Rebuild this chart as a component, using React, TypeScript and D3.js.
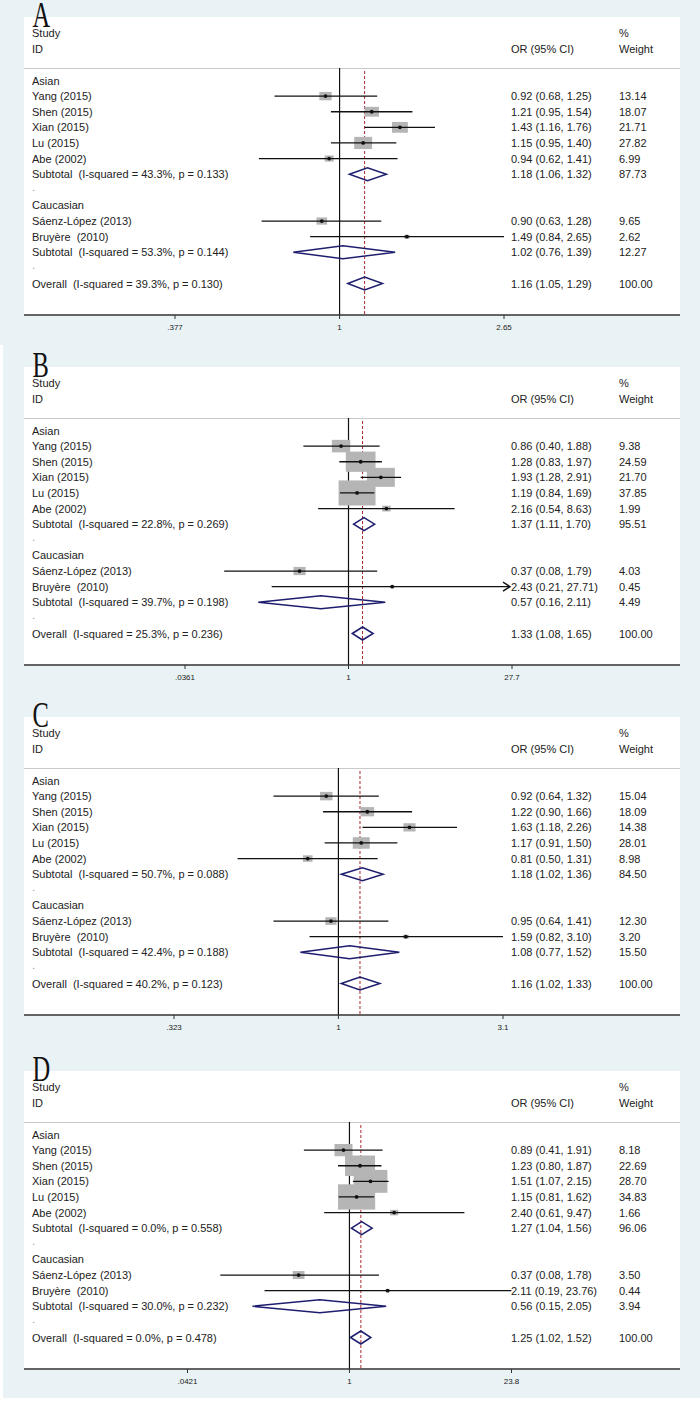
import React from "react";
import * as d3 from "d3";

// ---------- data ----------
const panelLetters = ["A", "B", "C", "D"];
const asianStudies = ["Yang (2015)", "Shen (2015)", "Xian (2015)", "Lu (2015)", "Abe (2002)"];
const caucasianStudies = ["Sáenz-López (2013)", "Bruyère  (2010)"];
const groupNames = ["Asian", "Caucasian"];

// tick values per panel
const ticksA = [0.377, 1, 2.65];
const ticksB = [0.0361, 1, 27.7];
const ticksC = [0.323, 1, 3.1];
const ticksD = [0.0421, 1, 23.8];
const tickLabelsA = [".377", "1", "2.65"];
const tickLabelsB = [".0361", "1", "27.7"];
const tickLabelsC = [".323", "1", "3.1"];
const tickLabelsD = [".0421", "1", "23.8"];

// study estimates (Asian x5, then Caucasian x2)
const orA = [0.92, 1.21, 1.43, 1.15, 0.94, 0.9, 1.49];
const loA = [0.68, 0.95, 1.16, 0.95, 0.62, 0.63, 0.84];
const hiA = [1.25, 1.54, 1.76, 1.4, 1.41, 1.28, 2.65];
const wA = [13.14, 18.07, 21.71, 27.82, 6.99, 9.65, 2.62];

const orB = [0.86, 1.28, 1.93, 1.19, 2.16, 0.37, 2.43];
const loB = [0.4, 0.83, 1.28, 0.84, 0.54, 0.08, 0.21];
const hiB = [1.88, 1.97, 2.91, 1.69, 8.63, 1.79, 27.71];
const wB = [9.38, 24.59, 21.7, 37.85, 1.99, 4.03, 0.45];

const orC = [0.92, 1.22, 1.63, 1.17, 0.81, 0.95, 1.59];
const loC = [0.64, 0.9, 1.18, 0.91, 0.5, 0.64, 0.82];
const hiC = [1.32, 1.66, 2.26, 1.5, 1.31, 1.41, 3.1];
const wC = [15.04, 18.09, 14.38, 28.01, 8.98, 12.3, 3.2];

const orD = [0.89, 1.23, 1.51, 1.15, 2.4, 0.37, 2.11];
const loD = [0.41, 0.8, 1.07, 0.81, 0.61, 0.08, 0.19];
const hiD = [1.91, 1.87, 2.15, 1.62, 9.47, 1.78, 23.76];
const wD = [8.18, 22.69, 28.7, 34.83, 1.66, 3.5, 0.44];

// subtotals (Asian, Caucasian) and overall (last)
const pooledOrA = [1.18, 1.02, 1.16];
const pooledLoA = [1.06, 0.76, 1.05];
const pooledHiA = [1.32, 1.39, 1.29];
const pooledWA = [87.73, 12.27, 100.0];
const pooledI2A = ["43.3%", "53.3%", "39.3%"];
const pooledPA = ["0.133", "0.144", "0.130"];

const pooledOrB = [1.37, 0.57, 1.33];
const pooledLoB = [1.11, 0.16, 1.08];
const pooledHiB = [1.7, 2.11, 1.65];
const pooledWB = [95.51, 4.49, 100.0];
const pooledI2B = ["22.8%", "39.7%", "25.3%"];
const pooledPB = ["0.269", "0.198", "0.236"];

const pooledOrC = [1.18, 1.08, 1.16];
const pooledLoC = [1.02, 0.77, 1.02];
const pooledHiC = [1.36, 1.52, 1.33];
const pooledWC = [84.5, 15.5, 100.0];
const pooledI2C = ["50.7%", "42.4%", "40.2%"];
const pooledPC = ["0.088", "0.188", "0.123"];

const pooledOrD = [1.27, 0.56, 1.25];
const pooledLoD = [1.04, 0.15, 1.02];
const pooledHiD = [1.56, 2.05, 1.52];
const pooledWD = [96.06, 3.94, 100.0];
const pooledI2D = ["0.0%", "30.0%", "0.0%"];
const pooledPD = ["0.558", "0.232", "0.478"];

// ---------- layout / style ----------
const W = 700;
const H = 1405;
const panelTops = [0, 350, 700, 1054];
const axisRanges = [
  [175, 504],
  [185, 512],
  [174, 503],
  [187.5, 511.5],
];
const boxScales = [3.4, 6.0, 3.2, 6.3];
const BG = "#e9f2f4";
const TEXT = "#222";
const FONT = "'Liberation Sans', Arial, sans-serif";

type Panel = {
  ticks: number[];
  tickLabels: string[];
  or: number[];
  lo: number[];
  hi: number[];
  w: number[];
  pOr: number[];
  pLo: number[];
  pHi: number[];
  pW: number[];
  pI2: string[];
  pP: string[];
};

const panels: Panel[] = [
  { ticks: ticksA, tickLabels: tickLabelsA, or: orA, lo: loA, hi: hiA, w: wA, pOr: pooledOrA, pLo: pooledLoA, pHi: pooledHiA, pW: pooledWA, pI2: pooledI2A, pP: pooledPA },
  { ticks: ticksB, tickLabels: tickLabelsB, or: orB, lo: loB, hi: hiB, w: wB, pOr: pooledOrB, pLo: pooledLoB, pHi: pooledHiB, pW: pooledWB, pI2: pooledI2B, pP: pooledPB },
  { ticks: ticksC, tickLabels: tickLabelsC, or: orC, lo: loC, hi: hiC, w: wC, pOr: pooledOrC, pLo: pooledLoC, pHi: pooledHiC, pW: pooledWC, pI2: pooledI2C, pP: pooledPC },
  { ticks: ticksD, tickLabels: tickLabelsD, or: orD, lo: loD, hi: hiD, w: wD, pOr: pooledOrD, pLo: pooledLoD, pHi: pooledHiD, pW: pooledWD, pI2: pooledI2D, pP: pooledPD },
];

const fmt = (v: number) => v.toFixed(2);
const ciText = (o: number, l: number, h: number) => `${fmt(o)} (${fmt(l)}, ${fmt(h)})`;

function ForestPanel({ p, idx }: { p: Panel; idx: number }) {
  const T = panelTops[idx];
  const x = d3
    .scaleLog()
    .domain([p.ticks[0], p.ticks[p.ticks.length - 1]])
    .range(axisRanges[idx]);
  const rowY = d3.scaleLinear().domain([0, 13]).range([T + 80.5, T + 283.5]);
  const axisY = T + 315;
  const lineTop = T + 68;
  const labelX = 32;
  const ciX = 511;
  const wX = 619;
  const k = boxScales[idx];
  const xMax = x.range()[1];
  const dMin = x.domain()[0];
  const dMax = x.domain()[1];

  const studyRows: { name: string; i: number; row: number }[] = [];
  asianStudies.forEach((n, j) => studyRows.push({ name: n, i: j, row: 1 + j }));
  caucasianStudies.forEach((n, j) => studyRows.push({ name: n, i: 5 + j, row: 9 + j }));
  const pooledRows = [6, 11, 13];
  const pooledNames = ["Subtotal", "Subtotal", "Overall"];

  const txt = (s: string, tx: number, ty: number, key: string, extra: any = {}) => (
    <text key={key} x={tx} y={ty + 4} fontFamily={FONT} fontSize={11} fill={TEXT} style={{ whiteSpace: "pre" }} {...extra}>
      {s}
    </text>
  );

  const overallX = x(p.pOr[2]);
  const dh = 13;

  return (
    <g>
      {/* white plot box */}
      <rect x={24} y={T + 17} width={656} height={298} fill="#fff" />
      {/* panel letter */}
      <text
        x={0}
        y={0}
        transform={`translate(32.5, ${T + 27}) scale(0.68, 1)`}
        fontFamily="'Liberation Serif', 'DejaVu Serif', serif"
        fontSize={36}
        fill="#111"
      >
        {panelLetters[idx]}
      </text>
      {/* headers */}
      {txt("Study", labelX, T + 33, "h1")}
      {txt("ID", labelX, T + 49, "h2")}
      {txt("%", wX, T + 33, "h3")}
      {txt("Weight", wX, T + 49, "h4")}
      {txt("OR (95% CI)", ciX, T + 49, "h5")}
      <line x1={24} x2={680} y1={T + 68.5} y2={T + 68.5} stroke="#c9c9c9" strokeWidth={1} />

      {/* reference lines */}
      <line x1={x(1)} x2={x(1)} y1={lineTop} y2={axisY} stroke="#111" strokeWidth={1.2} />
      <line x1={overallX} x2={overallX} y1={T + 71} y2={axisY} stroke="#a8282e" strokeWidth={1} strokeDasharray="3,2" />

      {/* group headers and spacer dots */}
      {txt(groupNames[0], labelX, rowY(0), "g0")}
      {txt(groupNames[1], labelX, rowY(8), "g1")}
      {txt(".", labelX, rowY(7) - 3, "d0", { fill: "#999" })}
      {txt(".", labelX, rowY(12) - 3, "d1", { fill: "#999" })}

      {/* studies */}
      {studyRows.map((s) => {
        const y = rowY(s.row);
        const side = k * Math.sqrt(p.w[s.i]);
        const bh = side * 0.68;
        const xo = x(p.or[s.i]);
        const loClip = Math.max(p.lo[s.i], dMin);
        const hiOver = p.hi[s.i] > dMax;
        const x1 = x(loClip);
        const x2 = hiOver ? xMax - 2 : x(p.hi[s.i]);
        return (
          <g key={s.name}>
            {txt(s.name, labelX, y, "l" + s.i)}
            <rect x={xo - side / 2} y={y - bh / 2} width={side} height={bh} fill="#b5b5b5" />
            <line x1={x1} x2={x2} y1={y} y2={y} stroke="#111" strokeWidth={1.3} />
            {hiOver && (
              <path
                d={`M${x2 - 7},${y - 4.5} L${x2},${y} L${x2 - 7},${y + 4.5}`}
                fill="none"
                stroke="#111"
                strokeWidth={1.4}
              />
            )}
            <circle cx={xo} cy={y} r={1.9} fill="#111" />
            {txt(ciText(p.or[s.i], p.lo[s.i], p.hi[s.i]), ciX, y, "c" + s.i)}
            {txt(fmt(p.w[s.i]), wX, y, "w" + s.i)}
          </g>
        );
      })}

      {/* pooled estimates */}
      {pooledRows.map((r, j) => {
        const y = rowY(r);
        const xl = x(p.pLo[j]);
        const xr = x(p.pHi[j]);
        const xc = x(p.pOr[j]);
        return (
          <g key={"p" + j}>
            {txt(`${pooledNames[j]}  (I-squared = ${p.pI2[j]}, p = ${p.pP[j]})`, labelX, y, "pl" + j)}
            <polygon
              points={`${xl},${y} ${xc},${y - dh / 2} ${xr},${y} ${xc},${y + dh / 2}`}
              fill="none"
              stroke="#1e1e6e"
              strokeWidth={1.5}
            />
            {txt(ciText(p.pOr[j], p.pLo[j], p.pHi[j]), ciX, y, "pc" + j)}
            {txt(fmt(p.pW[j]), wX, y, "pw" + j)}
          </g>
        );
      })}

      {/* x axis */}
      <line x1={24} x2={680} y1={axisY} y2={axisY} stroke="#333" strokeWidth={1.3} />
      {p.ticks.map((t, j) => (
        <g key={"t" + j}>
          <line x1={x(t)} x2={x(t)} y1={axisY} y2={axisY + 4} stroke="#333" strokeWidth={1} />
          <text x={x(t)} y={axisY + 15} textAnchor="middle" fontFamily={FONT} fontSize={8} fill={TEXT}>
            {p.tickLabels[j]}
          </text>
        </g>
      ))}
    </g>
  );
}

export default function App() {
  return (
    <svg
      width={W}
      height={H}
      viewBox={`0 0 ${W} ${H}`}
      style={{ position: "absolute", left: 0, top: 0, display: "block", background: "#fff" }}
    >
      <rect x={0} y={0} width={W} height={1398} fill={BG} />
      <rect x={0} y={345} width={3} height={H - 345} fill="#fff" />
      {panels.map((p, i) => (
        <ForestPanel key={i} p={p} idx={i} />
      ))}
    </svg>
  );
}
